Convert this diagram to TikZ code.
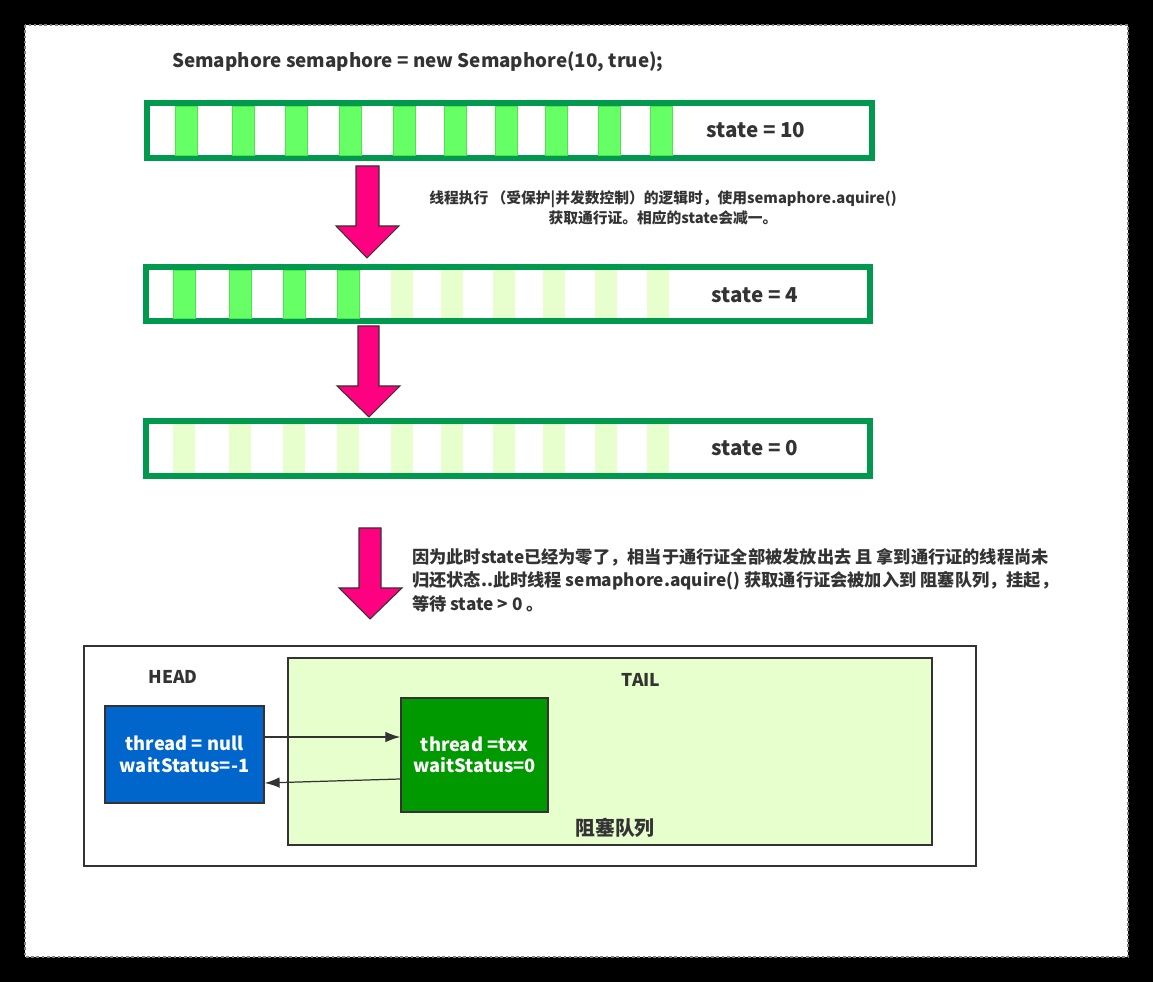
\documentclass[tikz,border=0pt]{standalone}
\usepackage{fontspec}
\setmainfont{Noto Sans CJK SC}
\usetikzlibrary{arrows.meta}

\definecolor{txt}{HTML}{333333}
\definecolor{barline}{HTML}{00994D}
\definecolor{slot}{HTML}{66FF66}
\definecolor{slotline}{HTML}{4CE64C}
\definecolor{slotoff}{HTML}{E6FFCC}
\definecolor{pink}{HTML}{FF0080}
\definecolor{headblue}{HTML}{0066CC}
\definecolor{txxgreen}{HTML}{009900}

\tikzset{
  bar/.style={draw=barline,line width=2.9pt},
  permit/.style={fill=slot,draw=slotline,line width=0.5pt},
  spent/.style={fill=slotoff},
  downarrow/.style={fill=pink,draw=txt,line width=0.6pt,line join=miter},
  state/.style={font=\bfseries\fontsize{11.7}{13}\selectfont,text=txt},
  qnode/.style={draw=txt,line width=0.8pt,text=white,align=center,
    font=\bfseries\fontsize{10.4}{12.2}\selectfont,inner sep=0pt},
  link/.style={->,draw=txt,line width=0.7pt},
}

\begin{document}
\begin{tikzpicture}[x=0.02cm,y=-0.02cm,>={Latex[length=8.5pt,width=6pt]}]
\fill[black] (0,0) rectangle (1153,982);
\filldraw[fill=white,draw=gray,line width=0.8pt,dash pattern=on 1.5pt off 1.5pt] (25,25) rectangle (1128,957);
\useasboundingbox (0,0) rectangle (1153,982);

\node[font=\bfseries\fontsize{10.7}{12}\selectfont,text=txt,anchor=west] (decl) at (166,62) {Semaphore semaphore = new Semaphore(10, true);};

% state = 10
\draw[bar] (147,103) rectangle (872,158);
\foreach \x in {175,232,285,339,393,444,495,545,598,650}
  \draw[permit] (\x,106) rectangle +(22,49);
\node[state] (s10) at (756,130) {state = 10};

\draw[downarrow] (356,166) -- (379,166) -- (379,226) -- (399,226) -- (367,258) -- (336,226) -- (356,226) -- cycle;
\node[font=\bfseries\fontsize{8.4}{11.3}\selectfont,text=txt,align=center] (acq) at (663,208)
  {线程执行 （受保护|并发数控制）的逻辑时，使用semaphore.aquire()\\获取通行证。相应的state会减一。};

% state = 4
\draw[bar] (146,267) rectangle (870,321);
\foreach \x in {173,229,283,337}
  \draw[permit] (\x,270) rectangle +(22,48);
\foreach \x in {391,441,493,543,595,647}
  \fill[spent] (\x,270) rectangle +(22,48);
\node[state] (s4) at (755,295) {state = 4};

\draw[downarrow] (358,326) -- (379,326) -- (379,386) -- (400,386) -- (369,417) -- (337,386) -- (358,386) -- cycle;

% state = 0
\draw[bar] (146,421) rectangle (870,476);
\foreach \x in {173,229,283,337,391,441,493,543,595,647}
  \fill[spent] (\x,424) rectangle +(22,49);
\node[state] (s0) at (755,448) {state = 0};

\draw[downarrow] (359,528) -- (381,528) -- (381,588) -- (402,588) -- (370,619) -- (339,588) -- (359,588) -- cycle;
\node[font=\bfseries\fontsize{9.8}{13.4}\selectfont,text=txt,align=left,anchor=north west] (wait) at (406,542)
  {因为此时state已经为零了，相当于通行证全部被发放出去 且 拿到通行证的线程尚未\\
   归还状态..此时线程 semaphore.aquire() 获取通行证会被加入到 阻塞队列，挂起，\\
   等待 state > 0 。};

% queue
\draw[txt,line width=0.9pt] (84,646) rectangle (976,866);
\filldraw[fill=slotoff,draw=txt,line width=0.9pt] (288,658) rectangle (932,845);
\node[font=\bfseries\fontsize{10}{12}\selectfont,text=txt] (head) at (173,677) {HEAD};
\node[font=\bfseries\fontsize{10}{12}\selectfont,text=txt] (tail) at (641,680) {TAIL};
\node[font=\bfseries\fontsize{11.3}{13}\selectfont,text=txt] (blk) at (615,828) {阻塞队列};

\node[qnode,fill=headblue,minimum width=3.18cm,minimum height=1.94cm] (hd) at (184.5,754.5) {thread = null\\waitStatus=-1};
\node[qnode,fill=txxgreen,minimum width=2.94cm,minimum height=2.28cm] (tx) at (474.5,755) {thread =txx\\waitStatus=0};

\draw[link] (hd.east |- 0,737) -- (tx.west |- 0,737);
\draw[link] (tx.west |- 0,779) -- (hd.east |- 0,783);
\end{tikzpicture}
\end{document}
